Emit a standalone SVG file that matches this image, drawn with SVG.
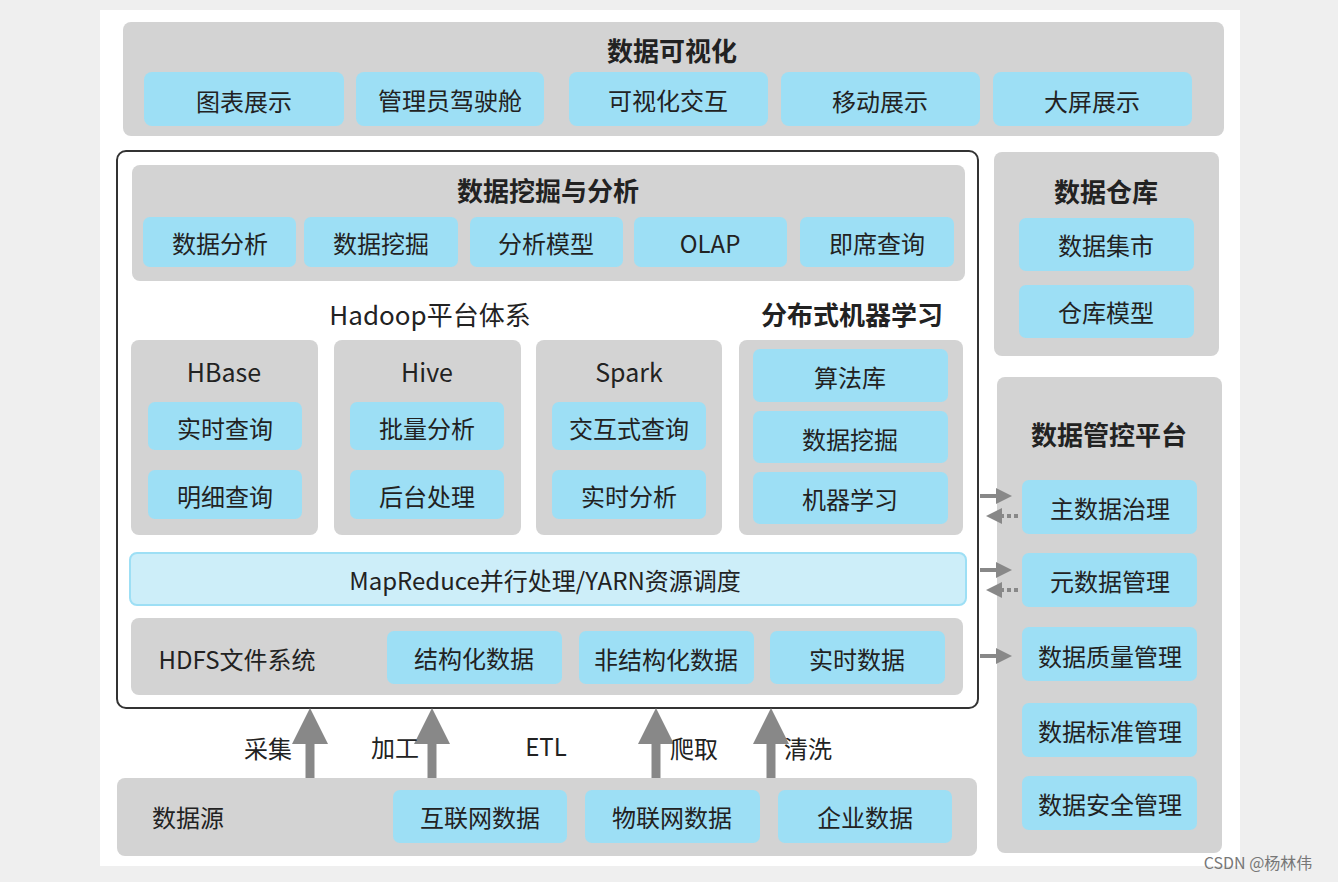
<svg xmlns="http://www.w3.org/2000/svg" width="1338" height="882" viewBox="0 0 1338 882">
<style>
.g{fill:#d3d3d3}
.b{fill:#9ddff5}
text{font-family:"Noto Sans CJK SC","Liberation Sans",sans-serif;fill:#222;text-anchor:middle;dominant-baseline:central}
.t{font-size:26px;font-weight:bold}
.s{font-size:24px}
.h{font-size:25px}
</style>
<defs>
<marker id="ah" markerWidth="4" markerHeight="4" refX="2" refY="2" orient="auto" markerUnits="strokeWidth"><path d="M0,0 L4,2 L0,4 z" fill="#888"/></marker>
</defs>
<rect width="1338" height="882" fill="#efefef"/>
<rect x="100" y="10" width="1140" height="856" fill="#fff"/>
<g id="vis">
<rect class="g" x="123" y="22" width="1101" height="114" rx="8"/>
<text class="t" x="672" y="49">数据可视化</text>
<rect class="b" x="144" y="72" width="200" height="54" rx="8"/><text class="s" x="244" y="100">图表展示</text>
<rect class="b" x="356" y="72" width="188" height="54" rx="8"/><text class="s" x="450" y="99">管理员驾驶舱</text>
<rect class="b" x="569" y="72" width="199" height="54" rx="8"/><text class="s" x="668" y="99">可视化交互</text>
<rect class="b" x="781" y="72" width="199" height="54" rx="8"/><text class="s" x="880" y="100">移动展示</text>
<rect class="b" x="993" y="72" width="199" height="54" rx="8"/><text class="s" x="1092" y="100">大屏展示</text>
</g>
<g id="platform">
<rect x="117" y="151" width="861" height="557" rx="9" fill="#fff" stroke="#333" stroke-width="2"/>
</g>
<g id="mining">
<rect class="g" x="132" y="165" width="833" height="116" rx="8"/>
<text class="t" x="548" y="189">数据挖掘与分析</text>
<rect class="b" x="143" y="217" width="153" height="50" rx="7"/><text class="s" x="220" y="242">数据分析</text>
<rect class="b" x="304" y="217" width="154" height="50" rx="7"/><text class="s" x="381" y="242">数据挖掘</text>
<rect class="b" x="470" y="217" width="153" height="50" rx="7"/><text class="s" x="546" y="242">分析模型</text>
<rect class="b" x="634" y="217" width="153" height="50" rx="7"/><text class="s" x="710" y="242">OLAP</text>
<rect class="b" x="800" y="217" width="154" height="50" rx="7"/><text class="s" x="877" y="242">即席查询</text>
</g>
<text class="t" x="430" y="313" style="font-weight:normal">Hadoop平台体系</text>
<text class="t" x="852" y="313">分布式机器学习</text>
<g id="hbase">
<rect class="g" x="131" y="340" width="187" height="195" rx="8"/>
<text class="h" x="224" y="371">HBase</text>
<rect class="b" x="148" y="402" width="154" height="48" rx="7"/><text class="s" x="225" y="427">实时查询</text>
<rect class="b" x="148" y="470" width="154" height="49" rx="7"/><text class="s" x="225" y="495">明细查询</text>
</g>
<g id="hive">
<rect class="g" x="334" y="340" width="187" height="195" rx="8"/>
<text class="h" x="427" y="371">Hive</text>
<rect class="b" x="350" y="402" width="154" height="48" rx="7"/><text class="s" x="427" y="427">批量分析</text>
<rect class="b" x="350" y="470" width="154" height="49" rx="7"/><text class="s" x="427" y="495">后台处理</text>
</g>
<g id="spark">
<rect class="g" x="536" y="340" width="186" height="195" rx="8"/>
<text class="h" x="629" y="371">Spark</text>
<rect class="b" x="552" y="402" width="154" height="48" rx="7"/><text class="s" x="629" y="427">交互式查询</text>
<rect class="b" x="552" y="470" width="154" height="49" rx="7"/><text class="s" x="629" y="495">实时分析</text>
</g>
<g id="ml">
<rect class="g" x="739" y="340" width="224" height="195" rx="8"/>
<rect class="b" x="753" y="349" width="195" height="53" rx="7"/><text class="s" x="850" y="376">算法库</text>
<rect class="b" x="753" y="411" width="195" height="52" rx="7"/><text class="s" x="850" y="438">数据挖掘</text>
<rect class="b" x="753" y="472" width="195" height="52" rx="7"/><text class="s" x="850" y="498">机器学习</text>
</g>
<g id="mapreduce">
<rect x="130" y="553" width="836" height="52" rx="7" fill="#cdeef9" stroke="#9ddff5" stroke-width="2"/>
<text class="s" x="545" y="579">MapReduce并行处理/YARN资源调度</text>
</g>
<g id="hdfs">
<rect class="g" x="131" y="618" width="832" height="77" rx="8"/>
<text class="s" x="237" y="658">HDFS文件系统</text>
<rect class="b" x="387" y="631" width="175" height="53" rx="7"/><text class="s" x="474" y="657">结构化数据</text>
<rect class="b" x="579" y="631" width="175" height="53" rx="7"/><text class="s" x="666" y="658">非结构化数据</text>
<rect class="b" x="770" y="631" width="175" height="53" rx="7"/><text class="s" x="857" y="658">实时数据</text>
</g>
<g id="warehouse">
<rect class="g" x="994" y="152" width="225" height="204" rx="8"/>
<text class="t" x="1106" y="190">数据仓库</text>
<rect class="b" x="1019" y="218" width="175" height="53" rx="7"/><text class="s" x="1106" y="244">数据集市</text>
<rect class="b" x="1019" y="285" width="175" height="53" rx="7"/><text class="s" x="1106" y="311">仓库模型</text>
</g>
<g id="govern">
<rect class="g" x="997" y="377" width="225" height="476" rx="8"/>
<text class="t" x="1109" y="433">数据管控平台</text>
<rect class="b" x="1022" y="480" width="175" height="54" rx="7"/><text class="s" x="1110" y="507">主数据治理</text>
<rect class="b" x="1022" y="553" width="175" height="54" rx="7"/><text class="s" x="1110" y="580">元数据管理</text>
<rect class="b" x="1022" y="627" width="175" height="54" rx="7"/><text class="s" x="1110" y="655">数据质量管理</text>
<rect class="b" x="1022" y="703" width="175" height="54" rx="7"/><text class="s" x="1110" y="730">数据标准管理</text>
<rect class="b" x="1022" y="776" width="175" height="54" rx="7"/><text class="s" x="1110" y="803">数据安全管理</text>
</g>
<g id="source">
<rect class="g" x="117" y="778" width="860" height="78" rx="8"/>
<text class="s" x="188" y="816">数据源</text>
<rect class="b" x="393" y="790" width="174" height="53" rx="7"/><text class="s" x="480" y="816">互联网数据</text>
<rect class="b" x="585" y="790" width="175" height="53" rx="7"/><text class="s" x="672" y="816">物联网数据</text>
<rect class="b" x="778" y="790" width="174" height="53" rx="7"/><text class="s" x="865" y="816">企业数据</text>
</g>
<g id="connectors" stroke="#888" fill="none">
<line x1="980" y1="496" x2="1004" y2="496" stroke-width="4" marker-end="url(#ah)"/>
<line x1="1018" y1="516" x2="994" y2="516" stroke-width="4" stroke-dasharray="4,3" marker-end="url(#ah)"/>
<line x1="980" y1="570" x2="1004" y2="570" stroke-width="4" marker-end="url(#ah)"/>
<line x1="1018" y1="590" x2="994" y2="590" stroke-width="4" stroke-dasharray="4,3" marker-end="url(#ah)"/>
<line x1="980" y1="656" x2="1004" y2="656" stroke-width="4" marker-end="url(#ah)"/>
<line x1="310" y1="778" x2="310" y2="726" stroke-width="9" marker-end="url(#ah)"/>
<line x1="432" y1="778" x2="432" y2="726" stroke-width="9" marker-end="url(#ah)"/>
<line x1="656" y1="778" x2="656" y2="726" stroke-width="9" marker-end="url(#ah)"/>
<line x1="771" y1="778" x2="771" y2="726" stroke-width="9" marker-end="url(#ah)"/>
</g>
<text class="s" x="268" y="747">采集</text>
<text class="s" x="395" y="746">加工</text>
<text class="s" x="546" y="745">ETL</text>
<text class="s" x="694" y="747">爬取</text>
<text class="s" x="808" y="747">清洗</text>
<text x="1258" y="862" style="font-size:16px;fill:#777">CSDN @杨林伟</text>
</svg>
